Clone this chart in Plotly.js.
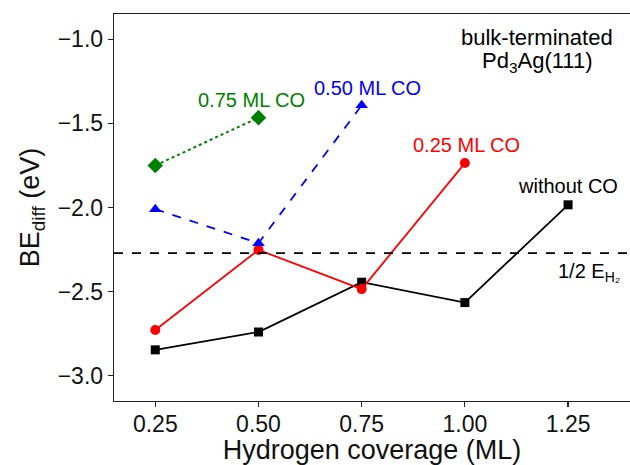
<!DOCTYPE html>
<html>
<head>
<meta charset="utf-8">
<script src="https://cdn.plot.ly/plotly-3.0.1.min.js"></script>
<style>html,body{margin:0;padding:0;background:#fff;}#chart{width:630px;height:465px;}</style>
</head>
<body>
<div id="chart"></div>
<script>
// Data
const coverage = [0.25, 0.50, 0.75, 1.00, 1.25];
const withoutCO = [-2.846, -2.740, -2.444, -2.565, -1.984];
const co025 = [-2.728, -2.252, -2.485, -1.736];
const co050 = [-2.010, -2.212, -1.393];
const co075 = [-1.750, -1.466];
const halfEH2 = -2.271;

const seriesLabels = ["without CO", "0.25 ML CO", "0.50 ML CO", "0.75 ML CO"];
const xTicks = [0.25, 0.50, 0.75, 1.00, 1.25];
const xTickText = ["0.25", "0.50", "0.75", "1.00", "1.25"];
const yTicks = [-3.0, -2.5, -2.0, -1.5, -1.0];
const yTickText = ["\u22123.0", "\u22122.5", "\u22122.0", "\u22121.5", "\u22121.0"];

const FONT = "Liberation Sans, Arial, sans-serif";

const traces = [
  {x: coverage.slice(0, withoutCO.length), y: withoutCO, mode: "lines+markers", name: seriesLabels[0],
   line: {color: "black", width: 1.8}, marker: {symbol: "square", size: 9, color: "black"}},
  {x: coverage.slice(0, co025.length), y: co025, mode: "lines+markers", name: seriesLabels[1],
   line: {color: "#ff0000", width: 1.8}, marker: {symbol: "circle", size: 10, color: "#ff0000"}},
  {x: coverage.slice(0, co050.length), y: co050, mode: "lines+markers", name: seriesLabels[2],
   line: {color: "#0000ff", width: 1.8, dash: "dash"}, marker: {symbol: "triangle-up", size: 11, color: "#0000ff"}},
  {x: coverage.slice(0, co075.length), y: co075, mode: "lines+markers", name: seriesLabels[3],
   line: {color: "#008000", width: 2, dash: "dot"}, marker: {symbol: "diamond", size: 12, color: "#008000"}}
];

const annFont = (c, s) => ({family: FONT, size: s || 20, color: c});
const annotations = [
  {x: 0.482, y: -1.361, text: seriesLabels[3], font: annFont("#008000")},
  {x: 0.763, y: -1.290, text: seriesLabels[2], font: annFont("#0000ff")},
  {x: 1.003, y: -1.629, text: seriesLabels[1], font: annFont("#ff0000")},
  {x: 1.250, y: -1.872, text: seriesLabels[0], font: annFont("black")},
  {x: 1.175, y: -0.987, text: "bulk-terminated", font: annFont("black", 22)},
  {x: 1.175, y: -1.135, text: "Pd<sub>3</sub>Ag(111)", font: annFont("black", 22)},
  {x: 1.301, y: -2.389, text: "1/2 E<sub>H\u2082</sub>", font: annFont("black", 20)}
].map(a => Object.assign({xref: "x", yref: "y", showarrow: false, xanchor: "center", yanchor: "middle"}, a));

const layout = {
  width: 630, height: 465,
  margin: {l: 114, r: 0, t: 14, b: 64},
  paper_bgcolor: "white", plot_bgcolor: "white",
  showlegend: false,
  font: {family: FONT, color: "black"},
  xaxis: {
    range: [0.15, 1.40], tickvals: xTicks, ticktext: xTickText,
    ticks: "outside", ticklen: 5, tickwidth: 1.2, tickcolor: "#222",
    showline: true, linecolor: "#222", linewidth: 1.3, mirror: true,
    showgrid: false, zeroline: false, ticklabelstandoff: -3,
    tickfont: {family: FONT, size: 23, color: "#111"},
    title: {text: "Hydrogen coverage (ML)", font: {family: FONT, size: 27, color: "#111"}, standoff: 4}
  },
  yaxis: {
    range: [-3.15, -0.85], tickvals: yTicks, ticktext: yTickText,
    ticks: "outside", ticklen: 5, tickwidth: 1.2, tickcolor: "#222",
    showline: true, linecolor: "#222", linewidth: 1.3,
    showgrid: false, zeroline: false,
    tickfont: {family: FONT, size: 23, color: "#111"},
    title: {text: "BE<sub>diff</sub> (eV)", font: {family: FONT, size: 27, color: "#111"}, standoff: 10}
  },
  shapes: [
    {type: "line", xref: "paper", x0: 0, x1: 1, yref: "y", y0: halfEH2, y1: halfEH2,
     line: {color: "black", width: 1.8, dash: "dash"}}
  ],
  annotations: annotations
};

Plotly.newPlot("chart", traces, layout, {displayModeBar: false, staticPlot: true});
</script>
</body>
</html>
